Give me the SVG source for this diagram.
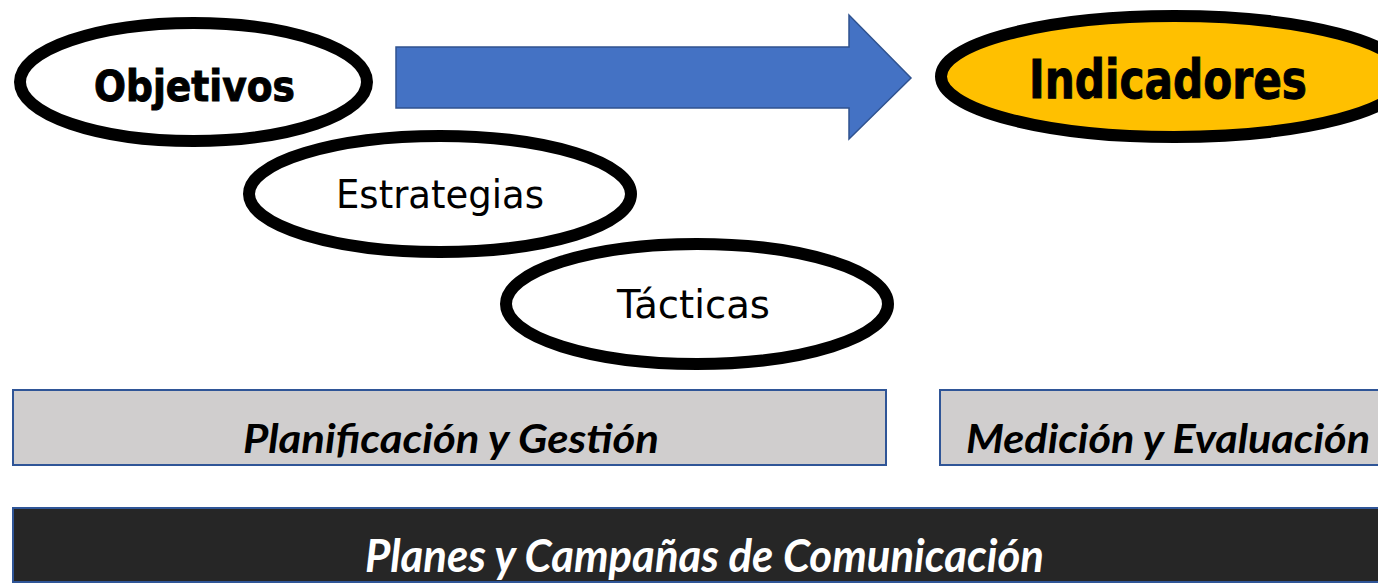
<svg xmlns="http://www.w3.org/2000/svg" width="1378" height="583" viewBox="0 0 1378 583">
  <style>
    .oval { fill: #FFFFFF; stroke: #000000; stroke-width: 12; }
    .bold { font-family: "DejaVu Sans", Verdana, sans-serif; font-weight: bold; fill: #000000; stroke: #000000; stroke-width: 1; }
    .reg { font-family: "DejaVu Sans", Verdana, sans-serif; font-weight: normal; fill: #000000; }
    .band { fill: #D0CECE; stroke: #2F5597; stroke-width: 2; }
    .dark { fill: #262626; stroke: #2F5597; stroke-width: 2; }
    .lab { font-family: Lato, "Open Sans", sans-serif; font-style: italic; font-weight: bold; }
  </style>
  <rect width="1378" height="583" fill="#FFFFFF"/>
  <g id="connectors">
    <path d="M396 47 H849 V15 L911 78 L849 139 V108 H396 Z" fill="#4472C4" stroke="#2F528F" stroke-width="1.5"/>
  </g>
  <g id="objetivos">
    <ellipse class="oval" cx="193.5" cy="82" rx="173.5" ry="59"/>
    <text class="bold" x="94" y="101" font-size="42" textLength="201" lengthAdjust="spacingAndGlyphs">Objetivos</text>
  </g>
  <g id="estrategias">
    <ellipse class="oval" cx="440" cy="194" rx="191" ry="58"/>
    <text class="reg" x="336" y="208" font-size="39" textLength="208" lengthAdjust="spacingAndGlyphs">Estrategias</text>
  </g>
  <g id="tacticas">
    <ellipse class="oval" cx="697" cy="304" rx="191" ry="60"/>
    <text class="reg" x="617" y="318" font-size="39" textLength="153" lengthAdjust="spacingAndGlyphs">Tácticas</text>
  </g>
  <g id="indicadores">
    <ellipse class="oval" style="fill:#FFC000" cx="1174" cy="76.5" rx="233" ry="60.5"/>
    <text class="bold" x="1029" y="98" font-size="53" textLength="278" lengthAdjust="spacingAndGlyphs">Indicadores</text>
  </g>
  <g id="planificacion">
    <rect class="band" x="13" y="390" width="873" height="75"/>
    <text class="lab" x="243" y="453" font-size="41" fill="#000000" textLength="416" lengthAdjust="spacingAndGlyphs">Planificación y Gestión</text>
  </g>
  <g id="medicion">
    <rect class="band" x="940" y="390" width="450" height="75"/>
    <text class="lab" x="966" y="453" font-size="41" fill="#000000" textLength="404" lengthAdjust="spacingAndGlyphs">Medición y Evaluación</text>
  </g>
  <g id="planes">
    <rect class="dark" x="13" y="508" width="1380" height="74"/>
    <text class="lab" x="365" y="572" font-size="45" fill="#FFFFFF" textLength="679" lengthAdjust="spacingAndGlyphs">Planes y Campañas de Comunicación</text>
  </g>
</svg>
